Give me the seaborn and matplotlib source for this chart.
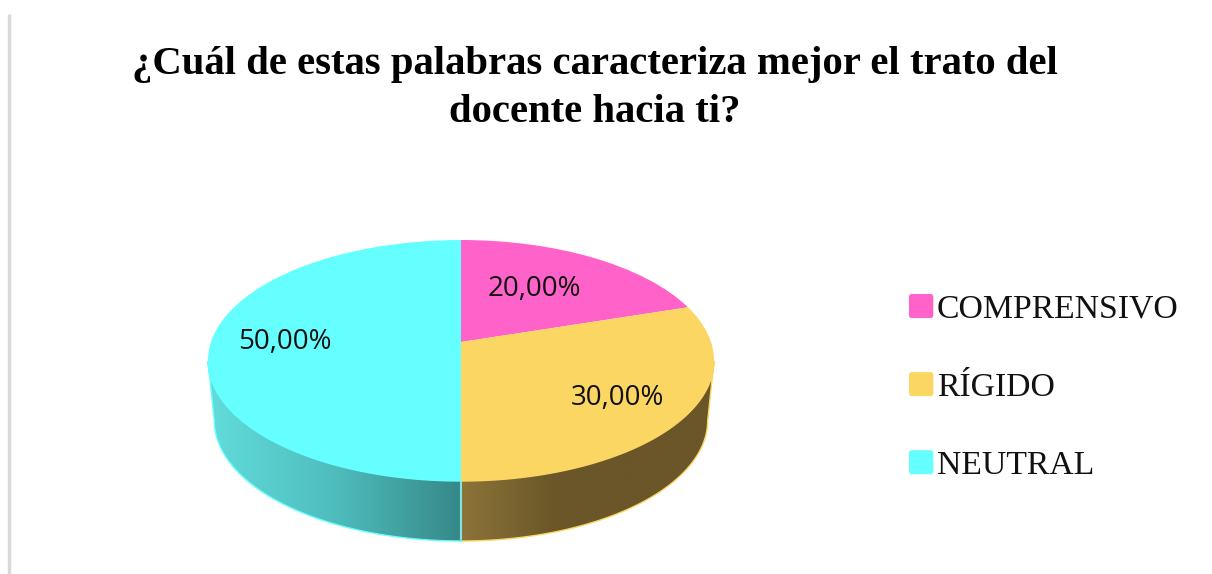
"""
Pie chart with a 3D look: perspective top face plus a shaded side rim.
"""
import numpy as np
import matplotlib
matplotlib.use('Agg')
import matplotlib.pyplot as plt
import seaborn as sns
from matplotlib.colors import LinearSegmentedColormap
from matplotlib.legend_handler import HandlerPatch
from matplotlib.patches import FancyBboxPatch, Polygon, Wedge
from matplotlib.transforms import Transform

# ============================== DATA ==============================
title_text = '¿Cuál de estas palabras caracteriza mejor el trato del\ndocente hacia ti?'
categories = ['COMPRENSIVO', 'RÍGIDO', 'NEUTRAL']
shares = [20.0, 30.0, 50.0]
slice_colors = ['#FF62C8', '#FBD662', '#66FFFF']
rim_left_colors = ['#62DCDC', '#4FBDBD', '#378888']
rim_right_colors = ['#8C7439', '#6A5628', '#6A5628']

# ============================== STYLE ==============================
sns.set_theme(style='white')
plt.rcParams['font.family'] = ['Liberation Serif', 'DejaVu Serif']

# pie geometry in pixels
CX, TOP, BOTTOM, APEX = 461.0, 240.0, 481.0, 342.0
HALF_WIDTH = 253.0
DEPTH = 60.0
RIM_SCALE = 0.975


class Tilt(Transform):
    """Projects the unit disc of the pie onto the tilted plane (pixels)."""
    input_dims = 2
    output_dims = 2

    def __init__(self):
        super().__init__()
        self.a = BOTTOM - APEX
        self.d = 2 * self.a / (BOTTOM - TOP) - 1
        self.e = HALF_WIDTH * np.sqrt(1 - self.d ** 2)

    def transform_non_affine(self, values):
        values = np.asarray(values)
        w = 1 + self.d * values[:, 1]
        return np.column_stack([CX + self.e * values[:, 0] / w,
                                BOTTOM - self.a * (values[:, 1] + 1) / w])


tilt = Tilt()


def rim_shape(start, stop):
    """Outline of the side band between two angles (degrees from 12 o'clock)."""
    theta = np.radians(np.linspace(start, stop, 120))
    upper = tilt.transform_non_affine(np.column_stack([np.sin(theta), np.cos(theta)]))
    lower = upper.copy()
    lower[:, 0] = CX + (upper[:, 0] - CX) * RIM_SCALE
    lower[:, 1] += DEPTH
    return np.vstack([upper, lower[::-1]])


def rounded_handle(legend, orig_handle, xdescent, ydescent, width, height, fontsize):
    return FancyBboxPatch((-xdescent + 2, -ydescent + 2), width - 4, height - 4,
                          boxstyle='round,pad=2', mutation_aspect=1)


# ============================== PLOT ==============================
fig = plt.figure(figsize=(12.12, 5.74), dpi=100, facecolor='white')
ax = fig.add_axes([0, 0, 1, 1])

wedges, _ = ax.pie(shares, colors=sns.color_palette(slice_colors), startangle=90,
                   counterclock=False, radius=1, wedgeprops={'linewidth': 0})
for wedge in wedges:
    wedge.set_transform(tilt + ax.transData)
    wedge.set_zorder(3)

ax.set_aspect('auto')
ax.axis('off')

# side rim with its horizontal shading
gradient = np.linspace(0, 1, 256).reshape(1, -1)

# right part goes dark quickly and then stays flat
shape = rim_shape(99, 180)
cmap = LinearSegmentedColormap.from_list('rim_right', list(zip([0, 0.37, 1], rim_right_colors)))
image = ax.imshow(gradient, cmap=cmap, extent=(CX, shape[:, 0].max(), BOTTOM + DEPTH, TOP),
                  aspect='auto', zorder=1)
outline = Polygon(shape, closed=True, facecolor='none', edgecolor=slice_colors[1], linewidth=1.0, zorder=2)
ax.add_patch(outline)
image.set_clip_path(outline)

shape = rim_shape(180, 261)
cmap = LinearSegmentedColormap.from_list('rim_left', rim_left_colors)
image = ax.imshow(gradient, cmap=cmap, extent=(shape[:, 0].min(), CX, BOTTOM + DEPTH, TOP),
                  aspect='auto', zorder=1)
outline = Polygon(shape, closed=True, facecolor='none', edgecolor=slice_colors[2], linewidth=1.0, zorder=2)
ax.add_patch(outline)
image.set_clip_path(outline)

ax.plot([CX, CX], [BOTTOM, BOTTOM + DEPTH], color='#7FE5E5', lw=1.5, zorder=2)
ax.set_xlim(0, 1212)
ax.set_ylim(574, 0)

# data labels
for share, (lx, ly) in zip(shares, [(534, 289), (618, 398), (285, 342)]):
    ax.text(lx, ly, f'{share:.2f}%'.replace('.', ','), ha='center', va='center',
            fontsize=20, family=['Open Sans', 'DejaVu Sans'], color='#111111', zorder=4)

# plot frame remnant on the left
ax.plot([9, 9], [14, 574], color='#D9D9D9', lw=2.5, solid_capstyle='butt', zorder=0)

fig.text(595 / 1212, 1 - 88.5 / 574, title_text, ha='center', va='center', fontsize=29.3,
         fontweight='bold', color='black', linespacing=1.39)

legend = ax.legend(wedges, categories, loc='upper left', bbox_to_anchor=(909 / 1212, 1 - 294 / 574),
                   bbox_transform=fig.transFigure, frameon=False, fontsize=24.3, borderpad=0,
                   borderaxespad=0, handlelength=0.72, handleheight=0.72, handletextpad=0.1,
                   labelspacing=1.4, handler_map={Wedge: HandlerPatch(patch_func=rounded_handle)})
for text in legend.get_texts():
    text.set_color('#111111')

fig.savefig('out.png', dpi=100, facecolor='white')
